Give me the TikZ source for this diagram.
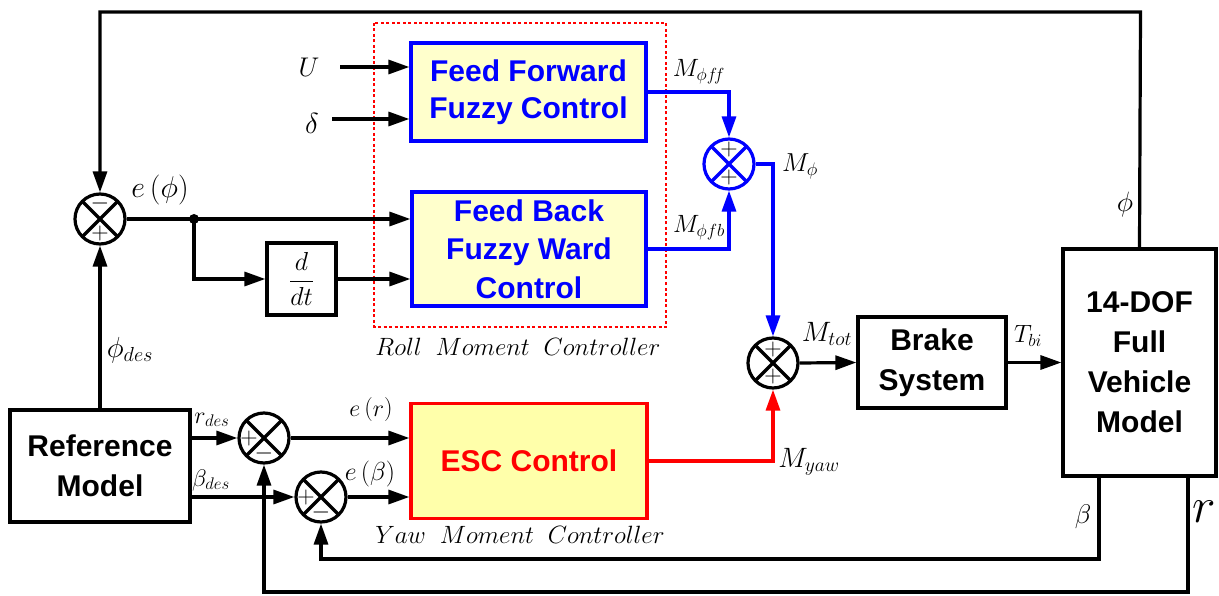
\RequirePackage{fix-cm}
\documentclass[tikz,border=0pt]{standalone}
\usepackage{fontspec}
\setmainfont{Liberation Serif}
\newfontfamily\arial{Liberation Sans}
\usetikzlibrary{arrows.meta}
\definecolor{fyel}{RGB}{255,255,204}
\definecolor{eyel}{RGB}{255,255,170}
\definecolor{pblue}{RGB}{0,0,255}
\definecolor{pred}{RGB}{255,0,0}
\newcommand{\fs}[2]{\fontsize{#1}{#2}\selectfont}
\tikzset{
  lw/.style={line width=3.2pt},
  arr/.style={lw, -{Triangle[length=21pt,width=14pt]}},
  blk/.style={draw, lw, align=center, inner sep=0pt, font=\arial\bfseries\fs{30}{40}},
  ffbox/.style={blk, draw=pblue, fill=fyel, text=pblue},
  escbox/.style={blk, draw=pred, fill=eyel, text=pred},
  sumj/.style={circle, draw, lw, minimum size=50pt, inner sep=0pt,
    path picture={\draw[lw] (path picture bounding box.north west) -- (path picture bounding box.south east)
      (path picture bounding box.north east) -- (path picture bounding box.south west);}},
  sgn/.style={font=\fs{24}{24}, inner sep=0pt},
  lab/.style={inner sep=0pt},
  ital/.style={inner sep=0pt, font=\fs{25}{25}}
}
\begin{document}
\begin{tikzpicture}[x=1pt,y=-1pt]
\useasboundingbox (0,0) rectangle (1219,596);
% roll controller frame
\draw[pred, line width=1.8pt, dash pattern=on 3pt off 2.5pt] (374,23) rectangle (666,327);
% blocks
\node[ffbox, font=\arial\bfseries\fs{30}{37}, minimum width=235pt, minimum height=98pt] (ff) at (528.5,92) {Feed Forward\\Fuzzy Control};
\node[ffbox, font=\arial\bfseries\fs{30}{38.5}, minimum width=234pt, minimum height=114pt] (fb) at (529,249) {Feed Back\\Fuzzy Ward\\Control};
\node[blk, font=\fs{26}{26}, minimum width=69pt, minimum height=72pt] (dd) at (301.5,279) {$\displaystyle\frac{d}{dt}$};
\node[escbox, minimum width=236pt, minimum height=115pt] (esc) at (529,461) {ESC Control};
\node[blk, minimum width=148pt, minimum height=91pt] (brake) at (932,362.5) {Brake\\System};
\node[blk, minimum width=153pt, minimum height=227pt] (veh) at (1139.5,362.5) {14-DOF\\Full\\Vehicle\\Model};
\node[blk, minimum width=180pt, minimum height=112pt] (ref) at (100,466) {Reference\\Model};
% summing junctions
\node[sumj] (sphi) at (100,219) {};
\node[sgn] at (100,204) {$-$};
\node[sgn] at (100,234) {$+$};
\node[sumj] (sr) at (264,438) {};
\node[sgn] at (249,438) {$+$};
\node[sgn] at (264,453) {$-$};
\node[sumj] (sb) at (321,497) {};
\node[sgn] at (306,497) {$+$};
\node[sgn] at (321,512) {$-$};
\node[sumj, draw=pblue, path picture={\draw[lw, pblue] (path picture bounding box.north west) -- (path picture bounding box.south east) (path picture bounding box.north east) -- (path picture bounding box.south west);}] (smphi) at (729,164) {};
\node[sgn] at (729,150) {$+$};
\node[sgn] at (729,178) {$+$};
\node[sumj] (stot) at (773,363) {};
\node[sgn] at (773,349) {$+$};
\node[sgn] at (773,377) {$+$};
% coordinates
\coordinate (uin) at (340,67);
\coordinate (din) at (332,119);
\coordinate (jd) at (194,219);
\coordinate (tp) at (1140.5,12);
\coordinate (bo) at (1099,476);
\coordinate (bl) at (1099,559);
\coordinate (ro) at (1188,476);
\coordinate (rl) at (1188,592);
% connectors black
\draw[arr] (uin) -- (uin -| ff.west);
\draw[arr] (din) -- (din -| ff.west);
\draw[arr] (sphi.east) -- (sphi.east -| fb.west);
\fill (jd) circle (5pt);
\draw[arr] (jd) |- (dd.west);
\draw[arr] (dd.east) -- (dd.east -| fb.west);
\draw[arr] (veh.north) -- (tp) -| (sphi.north);
\draw[arr] (ref.north) -- (sphi.south);
\draw[arr] (ref.east |- sr.west) -- (sr.west);
\draw[arr] (ref.east |- sb.west) -- (sb.west);
\draw[arr] (sr.east) -- (sr.east -| esc.west);
\draw[arr] (sb.east) -- (sb.east -| esc.west);
\draw[arr] (bo) -- (bl) -| (sb.south);
\draw[arr] (ro) -- (rl) -| (sr.south);
\draw[arr] (stot.east) -- (brake.west);
\draw[arr] (brake.east) -- (brake.east -| veh.west);
% blue
\draw[arr, pblue] (ff.east) -| (smphi.north);
\draw[arr, pblue] (fb.east) -| (smphi.south);
\draw[arr, pblue] (smphi.east) -| (stot.north);
% red
\draw[arr, pred] (esc.east) -| (stot.south);
% labels
\node[lab, font=\fs{27}{27}] (lu) at (309,67) {$U$};
\node[lab, font=\fs{29}{29}] (ld) at (312,123) {$\delta$};
\node[lab, font=\fs{30}{30}] (lephi) at (160,190) {$e\left(\phi\right)$};
\node[lab, font=\fs{25}{25}] (lmff) at (699,72) {$M_{\phi f\!f}$};
\node[lab, font=\fs{25}{25}] (lmfb) at (699,228) {$M_{\phi fb}$};
\node[lab, font=\fs{26}{26}] (lmphi) at (800,166) {$M_{\phi}$};
\node[lab, font=\fs{28}{28}] (lmtot) at (827,334) {$M_{tot}$};
\node[lab, font=\fs{25}{25}] (ltbi) at (1028,336) {$T_{bi}$};
\node[lab, font=\fs{28}{28}] (lmyaw) at (809,462) {$M_{yaw}$};
\node[lab, font=\fs{28}{28}] (lphi) at (1125,205) {$\phi$};
\node[lab, font=\fs{27}{27}] (lbeta) at (1083,517) {$\beta$};
\node[lab, font=\fs{50}{50}] (lr) at (1204,512) {$r$};
\node[lab, font=\fs{29}{29}] (lphid) at (130,350) {$\phi_{des}$};
\node[lab, font=\fs{24}{24}] (lrd) at (212,420) {$r_{des}$};
\node[lab, font=\fs{24}{24}] (lbd) at (211,480) {$\beta_{des}$};
\node[lab, font=\fs{24}{24}] (ler) at (371,410) {$e\left(r\right)$};
\node[lab, font=\fs{26}{26}] (leb) at (370,474) {$e\left(\beta\right)$};
\node[ital] (lroll) at (518,347) {$Roll\;\;Moment\;\;Controller$};
\node[ital] (lyaw) at (520,535) {$Yaw\;\;Moment\;\;Controller$};
\end{tikzpicture}
\end{document}
